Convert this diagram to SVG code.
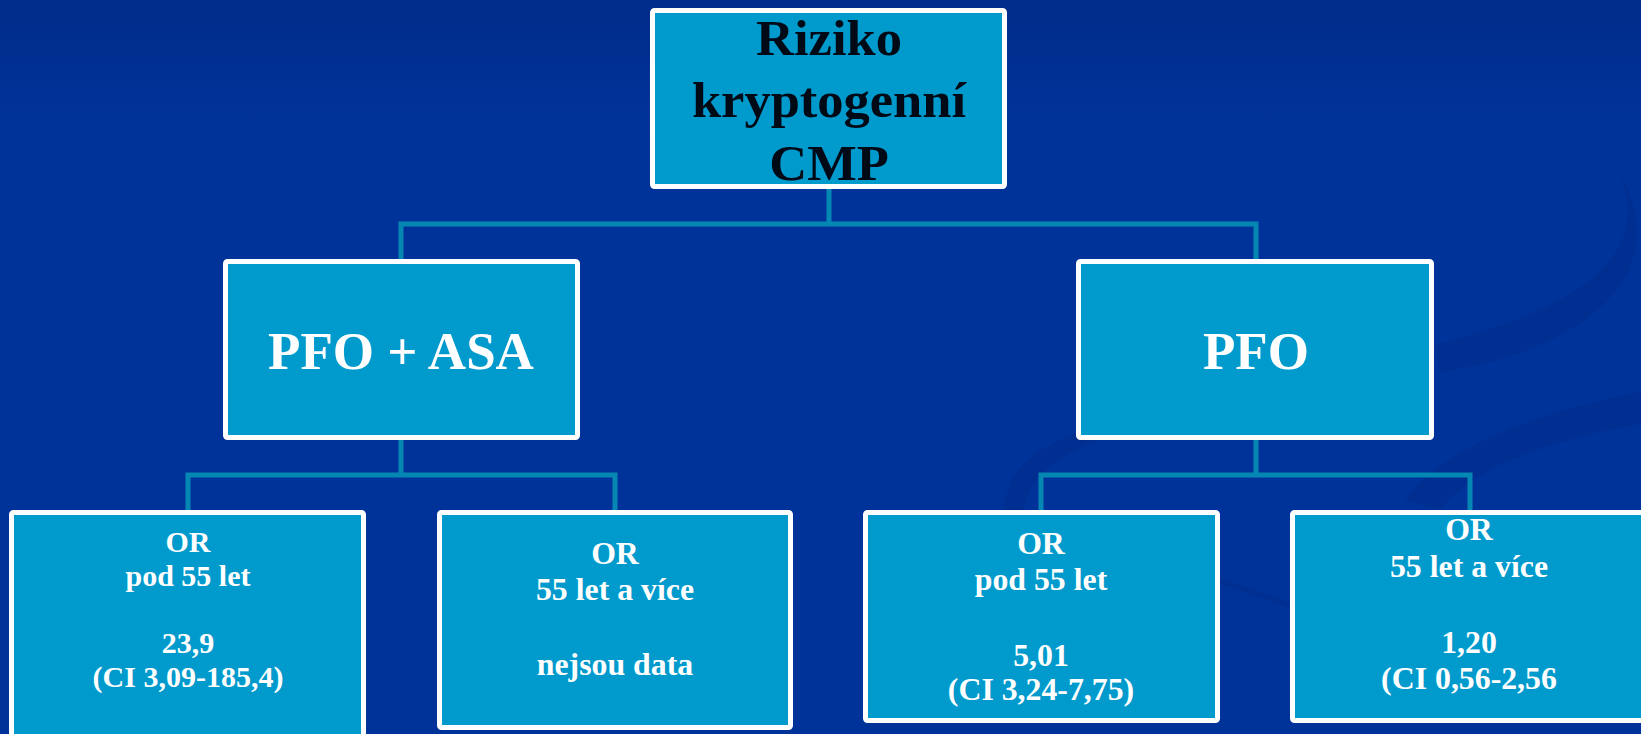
<svg xmlns="http://www.w3.org/2000/svg" width="1641" height="734" viewBox="0 0 1641 734">
  <defs>
    <linearGradient id="bg" x1="0" y1="0" x2="0" y2="1">
      <stop offset="0" stop-color="#002C8A"/>
      <stop offset="0.18" stop-color="#00339A"/>
      <stop offset="1" stop-color="#003399"/>
    </linearGradient>
    <style>
      .box { fill: #009ACD; stroke: #FFFFFF; stroke-width: 5; }
      .conn { fill: none; stroke: #0487B2; stroke-width: 5; stroke-linejoin: miter; }
      .swoosh { fill: #002A88; opacity: 0.45; }
      .t-top { font-family: "Liberation Serif", "Times New Roman", serif; font-weight: bold; font-size: 50.5px; fill: #000A16; text-anchor: middle; }
      .t-mid { font-family: "Liberation Serif", "Times New Roman", serif; font-weight: bold; font-size: 53px; fill: #FFFFFF; text-anchor: middle; }
      .t-leaf { font-family: "Liberation Serif", "Times New Roman", serif; font-weight: bold; font-size: 31.8px; fill: #FFFFFF; text-anchor: middle; }
      .t-leaf1 { font-family: "Liberation Serif", "Times New Roman", serif; font-weight: bold; font-size: 30px; fill: #FFFFFF; text-anchor: middle; }
    </style>
  </defs>

  <rect x="0" y="0" width="1641" height="734" fill="url(#bg)"/>

  <!-- faint background decoration -->
  <g id="decoration">
    <path class="swoosh" d="M1005,520 C1000,470 1040,438 1112,424 L1115,436 C1055,452 1025,480 1022,520 Z"/>
    <path class="swoosh" d="M1405,500 C1440,450 1540,410 1641,392 L1641,424 C1545,440 1470,470 1440,510 Z"/>
    <path class="swoosh" d="M1435,345 C1530,320 1600,290 1622,240 C1632,215 1628,190 1618,170 C1640,205 1645,250 1620,285 C1590,330 1520,360 1440,372 Z"/>
    <path d="M1218,580 L1292,606" stroke="#002A88" stroke-width="5" opacity="0.45" fill="none"/>
  </g>

  <g id="connectors">
    <path class="conn" d="M829,189 V224"/>
    <path class="conn" d="M401,259 V224 H1256 V259"/>
    <path class="conn" d="M401,440 V475"/>
    <path class="conn" d="M188,510 V475 H615 V510"/>
    <path class="conn" d="M1256,440 V475"/>
    <path class="conn" d="M1041,510 V475 H1470 V510"/>
  </g>

  <g id="node-root">
    <rect class="box" x="652.5" y="10.5" width="352" height="176" rx="2"/>
    <g transform="translate(829,0) scale(1.04,1)">
      <text class="t-top" x="0" y="55">Riziko</text>
      <text class="t-top" x="0" y="117">kryptogenní</text>
      <text class="t-top" x="0" y="180">CMP</text>
    </g>
  </g>

  <g id="node-pfo-asa">
    <rect class="box" x="225.5" y="261.5" width="352" height="176" rx="2"/>
    <text class="t-mid" x="401" y="369">PFO + ASA</text>
  </g>

  <g id="node-pfo">
    <rect class="box" x="1078.5" y="261.5" width="353" height="176" rx="2"/>
    <text class="t-mid" x="1256" y="369">PFO</text>
  </g>

  <g id="node-asa-under55">
    <rect class="box" x="11.5" y="512.5" width="352" height="240" rx="2"/>
    <text class="t-leaf1" x="188" y="552">OR</text>
    <text class="t-leaf1" x="188" y="586">pod 55 let</text>
    <text class="t-leaf1" x="188" y="653">23,9</text>
    <text class="t-leaf1" x="188" y="687">(CI 3,09-185,4)</text>
  </g>

  <g id="node-asa-55plus">
    <rect class="box" x="439.5" y="512.5" width="351" height="215" rx="2"/>
    <text class="t-leaf" x="615" y="564">OR</text>
    <text class="t-leaf" x="615" y="600">55 let a více</text>
    <text class="t-leaf" x="615" y="675">nejsou data</text>
  </g>

  <g id="node-pfo-under55">
    <rect class="box" x="865.5" y="512.5" width="352" height="208" rx="2"/>
    <text class="t-leaf" x="1041" y="554">OR</text>
    <text class="t-leaf" x="1041" y="590">pod 55 let</text>
    <text class="t-leaf" x="1041" y="666">5,01</text>
    <text class="t-leaf" x="1041" y="700">(CI 3,24-7,75)</text>
  </g>

  <g id="node-pfo-55plus">
    <rect class="box" x="1292.5" y="512.5" width="353" height="208" rx="2"/>
    <text class="t-leaf" x="1469" y="540">OR</text>
    <text class="t-leaf" x="1469" y="577">55 let a více</text>
    <text class="t-leaf" x="1469" y="653">1,20</text>
    <text class="t-leaf" x="1469" y="689">(CI 0,56-2,56</text>
  </g>
</svg>
